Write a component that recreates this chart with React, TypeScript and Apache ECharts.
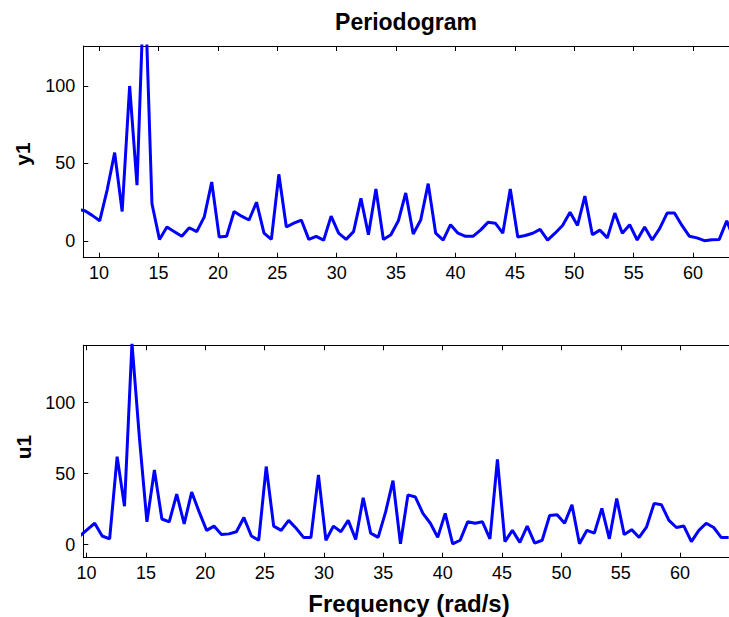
import React, { useEffect, useRef } from "react";
import * as echarts from "echarts";

const TITLE = "Periodogram";
const X_LABEL = "Frequency (rad/s)";
const Y1_NAME = "y1";
const U1_NAME = "u1";
const X_TICKS = [10, 15, 20, 25, 30, 35, 40, 45, 50, 55, 60];
const Y_TICKS = [0, 50, 100];

const FREQ_Y1 = [
  8.17, 8.8, 9.42, 10.05, 10.68, 11.31, 11.94, 12.57, 13.19, 13.82, 14.45, 15.08, 15.71, 16.34, 16.96,
  17.59, 18.22, 18.85, 19.48, 20.11, 20.73, 21.36, 21.99, 22.62, 23.25, 23.88, 24.5, 25.13, 25.76,
  26.39, 27.02, 27.65, 28.27, 28.9, 29.53, 30.16, 30.79, 31.42, 32.04, 32.67, 33.3, 33.93, 34.56,
  35.19, 35.81, 36.44, 37.07, 37.7, 38.33, 38.96, 39.58, 40.21, 40.84, 41.47, 42.1, 42.73, 43.35,
  43.98, 44.61, 45.24, 45.87, 46.5, 47.12, 47.75, 48.38, 49.01, 49.64, 50.27, 50.89, 51.52, 52.15,
  52.78, 53.41, 54.04, 54.66, 55.29, 55.92, 56.55, 57.18, 57.81, 58.43, 59.06, 59.69, 60.32, 60.95,
  61.58, 62.2, 62.83, 63.46,
];
const Y1 = [
  20.5, 19.5, 16.5, 13, 33, 57, 19, 100, 36, 175, 24, 1, 9, 6, 3,
  8.5, 6, 15.5, 38, 2.5, 3, 19, 16, 13.5, 25, 5, 1, 43, 9,
  11.5, 13.5, 1, 3, 0.5, 16, 5, 1, 6, 27.5, 4, 33.5, 1, 4,
  13, 31, 4.5, 13.5, 37, 5, 0.6, 10.5, 5, 3, 3, 7, 12, 11.5,
  5, 33.5, 2.5, 3.5, 5, 7.5, 0.6, 5, 10, 18.5, 10, 29, 4, 7,
  2, 18, 5, 10.5, 0.6, 9, 0.6, 8, 18, 18, 10, 3, 2, 0.2,
  0.8, 1, 13, 0.5,
];

const FREQ_U1 = [
  9.42, 10.05, 10.68, 11.31, 11.94, 12.57, 13.19, 13.82, 14.45, 15.08, 15.71, 16.34, 16.96,
  17.59, 18.22, 18.85, 19.48, 20.11, 20.73, 21.36, 21.99, 22.62, 23.25, 23.88, 24.5, 25.13, 25.76,
  26.39, 27.02, 27.65, 28.27, 28.9, 29.53, 30.16, 30.79, 31.42, 32.04, 32.67, 33.3, 33.93, 34.56,
  35.19, 35.81, 36.44, 37.07, 37.7, 38.33, 38.96, 39.58, 40.21, 40.84, 41.47, 42.1, 42.73, 43.35,
  43.98, 44.61, 45.24, 45.87, 46.5, 47.12, 47.75, 48.38, 49.01, 49.64, 50.27, 50.89, 51.52, 52.15,
  52.78, 53.41, 54.04, 54.66, 55.29, 55.92, 56.55, 57.18, 57.81, 58.43, 59.06, 59.69, 60.32, 60.95,
  61.58, 62.2, 62.83, 63.46, 64.09,
];
const U1 = [
  6, 10.5, 15, 6, 4, 62, 27, 142, 75, 16, 52.5, 18, 16,
  35.5, 14.5, 37, 23, 10, 13, 7, 7.5, 9, 19, 6, 3, 55, 13,
  10, 17, 11.5, 5, 5, 49, 3, 13, 9, 17, 3.5, 33, 8, 5,
  23, 45, 0.5, 35, 33.5, 22, 15, 5, 22, 0.5, 3, 16, 15, 16,
  4, 60, 2, 10, 1.5, 13, 1, 3, 20.5, 21, 15, 28, 0.5, 10,
  8, 25.5, 4, 32.5, 7, 10.5, 5, 12.5, 29, 28, 17, 12, 13, 2,
  10, 15, 12, 5, 5,
];

const FONT = "'Liberation Sans', Arial, Helvetica, sans-serif";

export default function App() {
  const ref = useRef<HTMLDivElement>(null);
  useEffect(() => {
    if (!ref.current) return;
    const chart = echarts.init(ref.current, undefined, { renderer: "svg" });
    const lineStyle = { color: "#000", width: 1 };
    const tickStyle = { color: "#000", width: 1 };
    const xBottom = (grid: number, min: number, max: number) => ({
      type: "value",
      gridIndex: grid,
      position: "bottom",
      min,
      max,
      splitLine: { show: false },
      axisLine: { show: true, onZero: false, lineStyle },
      axisTick: { show: true, inside: true, length: 5, lineStyle: tickStyle, customValues: X_TICKS },
      axisLabel: {
        show: true,
        margin: 6,
        color: "#000",
        fontSize: 18,
        fontFamily: FONT,
        customValues: X_TICKS,
      },
    });
    const xTop = (grid: number, min: number, max: number) => ({
      type: "value",
      gridIndex: grid,
      position: "top",
      min,
      max,
      splitLine: { show: false },
      axisLine: { show: true, onZero: false, lineStyle },
      axisTick: { show: true, inside: true, length: 5, lineStyle: tickStyle, customValues: X_TICKS },
      axisLabel: { show: false },
    });
    const yLeft = (grid: number, min: number, max: number) => ({
      type: "value",
      gridIndex: grid,
      position: "left",
      min,
      max,
      splitLine: { show: false },
      axisLine: { show: true, onZero: false, lineStyle },
      axisTick: { show: true, inside: true, length: 5, lineStyle: tickStyle, customValues: Y_TICKS },
      axisLabel: {
        show: true,
        margin: 8,
        color: "#000",
        fontSize: 18,
        fontFamily: FONT,
        customValues: Y_TICKS,
      },
    });
    const label = (text: string, x: number, y: number, size: number, rotation = 0) => ({
      type: "text",
      x,
      y,
      rotation,
      style: {
        text,
        fontSize: size,
        fontWeight: "bold",
        fontFamily: FONT,
        fill: "#000",
        align: "center",
        verticalAlign: "middle",
      },
    });
    chart.setOption({
      animation: false,
      backgroundColor: "#fff",
      grid: [
        { left: 83.3, top: 46, width: 645.7, height: 211.7 },
        { left: 83.3, top: 345.3, width: 645.7, height: 212.4 },
      ],
      xAxis: [xBottom(0, 8.67, 63.02), xTop(0, 8.67, 63.02), xBottom(1, 9.72, 64.12), xTop(1, 9.72, 64.12)],
      yAxis: [yLeft(0, -10.8, 125.8), yLeft(1, -9.3, 140.5)],
      series: [
        {
          type: "line",
          xAxisIndex: 0,
          yAxisIndex: 0,
          data: FREQ_Y1.map((f, i) => [f, Y1[i]]),
          showSymbol: false,
          clip: true,
          lineStyle: { color: "#0000ff", width: 3 },
          itemStyle: { color: "#0000ff" },
        },
        {
          type: "line",
          xAxisIndex: 2,
          yAxisIndex: 1,
          data: FREQ_U1.map((f, i) => [f, U1[i]]),
          showSymbol: false,
          clip: true,
          lineStyle: { color: "#0000ff", width: 3 },
          itemStyle: { color: "#0000ff" },
        },
      ],
      graphic: [
        label(TITLE, 406, 22, 23),
        label(X_LABEL, 409, 603, 24),
        label(Y1_NAME, 22, 154, 21, Math.PI / 2),
        label(U1_NAME, 23, 447, 21, Math.PI / 2),
      ],
    });
    return () => chart.dispose();
  }, []);
  return (
    <div
      ref={ref}
      style={{ position: "fixed", left: 0, top: 0, width: 729, height: 617, background: "#fff" }}
    />
  );
}
